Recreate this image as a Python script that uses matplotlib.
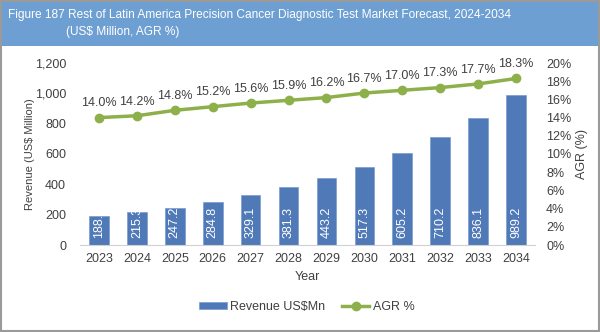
import matplotlib
matplotlib.use("Agg")
import matplotlib.pyplot as plt
from matplotlib.patches import Rectangle
from matplotlib.ticker import FuncFormatter

years = ["2023", "2024", "2025", "2026", "2027", "2028", "2029", "2030", "2031", "2032", "2033", "2034"]
revenue = [188.5, 215.3, 247.2, 284.8, 329.1, 381.3, 443.2, 517.3, 605.2, 710.2, 836.1, 989.2]
agr = [14.0, 14.2, 14.8, 15.2, 15.6, 15.9, 16.2, 16.7, 17.0, 17.3, 17.7, 18.3]

title_line1 = "Figure 187 Rest of Latin America Precision Cancer Diagnostic Test Market Forecast, 2024-2034"
title_line2 = "(US$ Million, AGR %)"

plt.rcParams['font.family'] = ['Liberation Sans', 'DejaVu Sans']
bar_color = "#5079B8"
line_color = "#8DB04A"
text_color = "#404040"

fig = plt.figure(figsize=(6, 3.32), dpi=100)
# title band
fig.patches.append(Rectangle((0, 1 - 46/332), 1, 46/332, transform=fig.transFigure,
                             facecolor="#6E9FD2", edgecolor="none", zorder=0))
fig.patches.append(Rectangle((0.002, 0.003), 0.996, 0.994, transform=fig.transFigure,
                             facecolor="none", edgecolor="#9A9A9A", lw=1.5, zorder=5))
fig.text(8/600, 1 - 15/332, title_line1, color="white", fontsize=8.6, va="center", ha="left")
fig.text(66/600, 1 - 32/332, title_line2, color="white", fontsize=8.6, va="center", ha="left")

ax = fig.add_axes([80/600, 1 - 245/332, (535 - 80)/600, (245 - 63)/332])
x = list(range(len(years)))
bars = ax.bar(x, revenue, width=0.52, color=bar_color, edgecolor="#7A9CD0", lw=0.5, zorder=2)
ax.set_xlim(-0.5, len(years) - 0.5)
ax.set_ylim(0, 1200)
ax.set_yticks(range(0, 1201, 200))
ax.yaxis.set_major_formatter(FuncFormatter(lambda v, p: f"{int(v):,}"))
ax.set_xticks(x)
ax.set_xticklabels(years)
for s in ["top", "right", "left"]:
    ax.spines[s].set_visible(False)
ax.spines["bottom"].set_color("#D0D0D0")
ax.tick_params(axis="both", length=0, colors=text_color, labelsize=9)
ax.tick_params(axis="y", pad=10)
ax.tick_params(axis="x", pad=6)
ax.set_ylabel("Revenue (US$ Million)", color=text_color, fontsize=8)
ax.yaxis.set_label_coords(-0.099, 0.5)
ax.set_xlabel("Year", color=text_color, fontsize=9, labelpad=4)

for b, v in zip(bars, revenue):
    t = ax.text(b.get_x() + b.get_width() / 2, 45, f"{v:.1f}", rotation=90, color="white",
                fontsize=9, ha="center", va="bottom", zorder=3)
    t.set_clip_path(b)

ax2 = ax.twinx()
ax2.plot(x, agr, color=line_color, lw=2.5, marker="o", markersize=6, zorder=4, label="AGR %")
ax2.set_ylim(0, 20)
ax2.set_yticks(range(0, 21, 2))
ax2.yaxis.set_major_formatter(FuncFormatter(lambda v, p: f"{int(v)}%"))
for s in ["top", "right", "left", "bottom"]:
    ax2.spines[s].set_visible(False)
ax2.tick_params(axis="y", length=0, colors=text_color, labelsize=9, pad=8)
ax2.set_ylabel("AGR (%)", color=text_color, fontsize=9)
ax2.yaxis.set_label_coords(1.09, 0.5)
for xi, a in zip(x, agr):
    ax2.text(xi, a + 0.9, f"{a:.1f}%", ha="center", va="bottom", color=text_color, fontsize=9)

handles = [bars, ax2.get_lines()[0]]
fig.legend(handles, ["Revenue US$Mn", "AGR %"], loc="center", bbox_to_anchor=(307/600, 1 - 307/332),
           ncol=2, frameon=False, fontsize=9, labelcolor=text_color, handlelength=2.2,
           handleheight=0.4, columnspacing=1.3, handletextpad=0.3)

fig.savefig("out.png", dpi=100)
